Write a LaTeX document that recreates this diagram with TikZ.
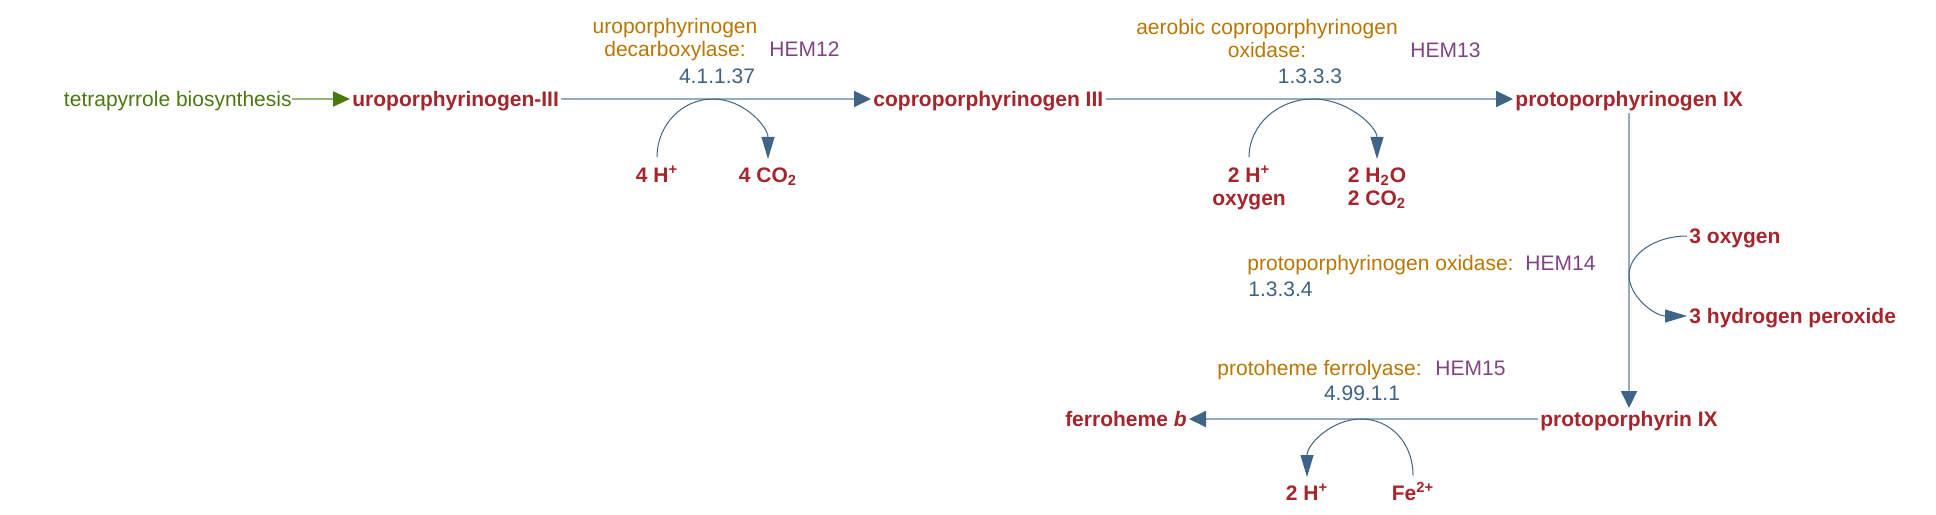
\documentclass[tikz,border=0pt]{standalone}
\usepackage{fontspec}
\setmainfont{Liberation Sans}
\usetikzlibrary{arrows.meta}
\definecolor{stoffrot}{RGB}{166,36,44}
\definecolor{enzymgold}{RGB}{184,118,4}
\definecolor{genlila}{RGB}{128,68,128}
\definecolor{ecblau}{RGB}{62,98,130}
\definecolor{linienblau}{RGB}{148,172,194}
\definecolor{pfeilblau}{RGB}{64,100,134}
\definecolor{quellgruen}{RGB}{76,120,16}
\definecolor{gruenlinie}{RGB}{150,180,120}

\begin{document}
\begin{tikzpicture}[x=0.5pt, y=-0.5pt, % Pixelraster, y nach unten
    font=\fontsize{10.5}{11.5}\selectfont,
    stoff/.style={font=\fontsize{10.5}{11.5}\selectfont\bfseries, text=stoffrot,
        inner xsep=1pt, inner ysep=0pt, text height=7.6pt, text depth=0pt},
    neben/.style={font=\fontsize{10.5}{11.5}\selectfont\bfseries, text=stoffrot,
        inner sep=0pt, align=center, anchor=base},
    enzym/.style={text=enzymgold, inner sep=0pt, align=center, anchor=base},
    gen/.style={text=genlila, inner sep=0pt, anchor=base west},
    ecnr/.style={text=ecblau, inner sep=0pt, anchor=base},
    haupt/.style={draw=linienblau, line width=1pt,
        -{Triangle[length=8.5pt, width=8pt, color=pfeilblau]}},
    nebenpfeil/.style={draw=pfeilblau, line width=0.5pt,
        -{Triangle[length=11pt, width=6.5pt]}}
]
    \useasboundingbox (0,0) rectangle (1936,514);

    % Hauptstoffe
    \node[stoff, font=\fontsize{10.5}{11.5}\selectfont, text=quellgruen, inner xsep=0pt, anchor=east] (quelle) at (292,99) {tetrapyrrole biosynthesis};
    \node[stoff, anchor=west] (uro) at (350,99) {uroporphyrinogen-III};
    \node[stoff, anchor=west] (copro) at (871,99) {coproporphyrinogen III};
    \node[stoff, anchor=west] (protogen) at (1513,99) {protoporphyrinogen IX};
    \node[stoff] (protoIX) at (1629,419) {protoporphyrin IX};
    \node[stoff, anchor=east] (ferro) at (1189,419) {ferroheme \textit{b}};

    % Hauptpfeile
    \draw[draw=gruenlinie, line width=1pt, -{Triangle[length=8.5pt, width=7.5pt, color=quellgruen]}] (quelle) -- (uro);
    \foreach \a/\b in {uro/copro, copro/protogen, protoIX/ferro} {
        \draw[haupt] (\a) -- (\b);
    }
    \draw[haupt, shorten <=3pt, shorten >=1.5pt] (protoIX.north |- protogen.south) -- (protoIX.north);

    % Enzyme, Gene und EC-Nummern (base = letzte Zeile)
    \node[enzym] (enz1) at (675,56) {uroporphyrinogen\\decarboxylase:};
    \node[gen] (hem12) at (769,56) {HEM12};
    \node[ecnr] (ec1) at (717,83) {4.1.1.37};
    \node[enzym] (enz2) at (1267,57) {aerobic coproporphyrinogen\\oxidase:};
    \node[gen] (hem13) at (1410,57) {HEM13};
    \node[ecnr] (ec2) at (1310,83) {1.3.3.3};
    \node[enzym, anchor=base west] (enz3) at (1247,270) {protoporphyrinogen oxidase:};
    \node[gen] (hem14) at (1525,270) {HEM14};
    \node[ecnr, anchor=base west] (ec3) at (1248,296) {1.3.3.4};
    \node[enzym, anchor=base west] (enz4) at (1217,375) {protoheme ferrolyase:};
    \node[gen] (hem15) at (1435,375) {HEM15};
    \node[ecnr] (ec4) at (1362,400) {4.99.1.1};

    % Nebenstoffe
    \node[neben] (h4) at (657,182) {4 H\textsuperscript{+}};
    \node[neben] (co2a) at (768,182) {4 CO\textsubscript{2}};
    \node[neben] (h2ox) at (1249,205) {2 H\textsuperscript{+}\\oxygen};
    \node[neben] (h2o) at (1377,205) {2 H\textsubscript{2}O\\2 CO\textsubscript{2}};
    \node[stoff, anchor=west] (ox3) at (1687,236) {3 oxygen};
    \node[stoff, anchor=west] (hp3) at (1687,316) {3 hydrogen peroxide};
    \node[neben] (h2b) at (1307,500) {2 H\textsuperscript{+}};
    \node[neben] (fe) at (1413,500) {Fe\textsuperscript{2+}};

    % Punkte auf den Hauptpfeilen
    \coordinate (m1) at (713,99);
    \coordinate (m2) at (1313,99);
    \coordinate (m3) at (1629,275);
    \coordinate (m4) at (1361,419);

    % Nebenpfeile
    \draw[nebenpfeil] ([yshift=4pt]h4.north) .. controls +(0,-32) and +(-31,0) .. (m1)
        .. controls +(31,0) and +(0,-32) .. ([yshift=4pt]co2a.north);
    \draw[nebenpfeil] ([yshift=4pt]h2ox.north) .. controls +(0,-32) and +(-35,0) .. (m2)
        .. controls +(35,0) and +(0,-32) .. ([yshift=4pt]h2o.north);
    \draw[nebenpfeil] (ox3.west) .. controls +(-32,0) and +(0,-21) .. (m3)
        .. controls +(0,22) and +(-32,0) .. (hp3.west);
    \draw[nebenpfeil] ([yshift=3pt]fe.north) .. controls +(0,-33) and +(29,0) .. (m4)
        .. controls +(-29,0) and +(0,-33) .. ([yshift=3pt]h2b.north);

\end{tikzpicture}
\end{document}
